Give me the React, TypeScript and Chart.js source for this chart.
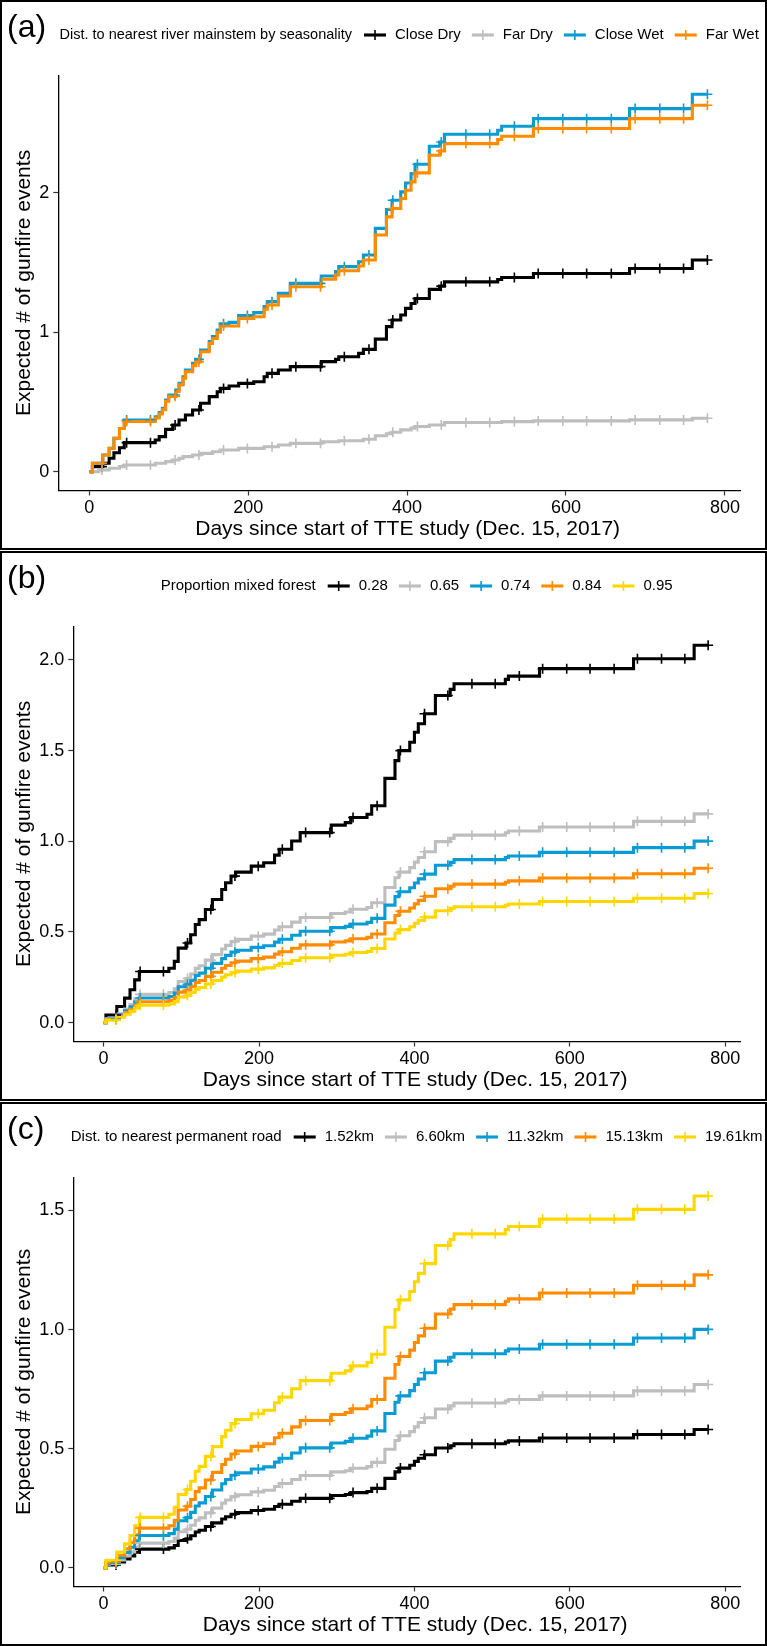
import React, { useEffect, useRef } from 'react';
import { Chart, registerables } from 'chart.js';

Chart.register(...registerables);

const FONT = '"Liberation Sans", Arial, Helvetica, sans-serif';

// ---------- shared ----------
const X_TICKS = [0, 200, 400, 600, 800];
const X_TITLE = 'Days since start of TTE study (Dec. 15, 2017)';
const Y_TITLE = 'Expected # of gunfire events';
const CENSOR_DAYS = [16, 47, 77, 108, 138, 169, 199, 230, 260, 291, 321, 352, 382, 413, 443, 474, 504, 535, 565, 596, 626, 657, 687, 718, 748, 778];
const COLORS = ['#000000', '#BEBEBE', '#0A9BD2', '#FF8C00', '#FFD700'];

// ---------- panel (a) ----------
const A_TAG = '(a)';
const A_LEGEND_TITLE = 'Dist. to nearest river mainstem by seasonality';
const A_LABELS = ['Close Dry', 'Far Dry', 'Close Wet', 'Far Wet'];
const A_Y_TICKS = [0, 1, 2];
const A_DAYS = [0, 4, 12, 17, 25, 31, 38, 44, 83, 88, 92, 96, 100, 105, 109, 113, 118, 121, 130, 134, 140, 151, 155, 161, 165, 176, 188, 207, 220, 224, 238, 253, 292, 310, 314, 339, 345, 360, 374, 381, 392, 398, 405, 410, 428, 441, 447, 514, 519, 559, 680, 759, 778];
const A_CLOSE_DRY = [0, 0.036, 0.036, 0.06, 0.096, 0.136, 0.172, 0.208, 0.227, 0.251, 0.251, 0.303, 0.303, 0.335, 0.335, 0.37, 0.37, 0.406, 0.442, 0.442, 0.49, 0.538, 0.538, 0.573, 0.597, 0.614, 0.633, 0.645, 0.681, 0.705, 0.729, 0.753, 0.789, 0.805, 0.824, 0.848, 0.877, 0.95, 1.04, 1.087, 1.123, 1.171, 1.206, 1.242, 1.307, 1.33, 1.361, 1.378, 1.392, 1.421, 1.457, 1.517, 1.517];
const A_FAR_DRY = [0, 0, 0.012, 0.012, 0.024, 0.024, 0.036, 0.048, 0.06, 0.06, 0.06, 0.072, 0.072, 0.084, 0.084, 0.095, 0.108, 0.108, 0.12, 0.12, 0.131, 0.131, 0.143, 0.143, 0.155, 0.155, 0.167, 0.167, 0.179, 0.179, 0.191, 0.203, 0.215, 0.215, 0.222, 0.222, 0.232, 0.258, 0.272, 0.283, 0.3, 0.3, 0.312, 0.324, 0.335, 0.335, 0.352, 0.352, 0.359, 0.364, 0.371, 0.383, 0.383];
const A_CLOSE_WET = [0, 0.06, 0.06, 0.12, 0.167, 0.239, 0.31, 0.37, 0.394, 0.423, 0.454, 0.514, 0.55, 0.55, 0.585, 0.633, 0.681, 0.729, 0.777, 0.805, 0.872, 0.932, 0.968, 1.016, 1.06, 1.07, 1.12, 1.14, 1.183, 1.219, 1.278, 1.35, 1.403, 1.434, 1.47, 1.505, 1.553, 1.744, 1.88, 1.946, 2.006, 2.07, 2.137, 2.204, 2.333, 2.364, 2.419, 2.448, 2.476, 2.531, 2.603, 2.706, 2.706];
const A_FAR_WET = [0, 0.06, 0.06, 0.12, 0.167, 0.239, 0.31, 0.36, 0.385, 0.414, 0.445, 0.505, 0.54, 0.54, 0.575, 0.622, 0.67, 0.717, 0.76, 0.787, 0.86, 0.92, 0.955, 1.0, 1.044, 1.044, 1.099, 1.111, 1.164, 1.195, 1.259, 1.326, 1.379, 1.41, 1.441, 1.474, 1.517, 1.697, 1.827, 1.887, 1.958, 2.018, 2.078, 2.142, 2.268, 2.3, 2.352, 2.381, 2.405, 2.46, 2.531, 2.627, 2.627];

// ---------- panels (b) and (c): shared event days ----------
const BC_DAYS = [0, 3, 17, 27, 34, 40, 46, 84, 91, 96, 106, 112, 118, 123, 131, 140, 152, 157, 164, 170, 190, 206, 220, 226, 242, 253, 293, 311, 318, 339, 345, 362, 375, 380, 394, 400, 405, 413, 427, 446, 451, 517, 521, 561, 682, 760, 778];

// ---------- panel (b) ----------
const B_TAG = '(b)';
const B_LEGEND_TITLE = 'Proportion mixed forest';
const B_LABELS = ['0.28', '0.65', '0.74', '0.84', '0.95'];
const B_Y_TICKS = [0, 0.5, 1, 1.5, 2];
const B_028 = [0, 0.042, 0.089, 0.135, 0.181, 0.236, 0.282, 0.3, 0.338, 0.411, 0.439, 0.485, 0.541, 0.568, 0.624, 0.679, 0.734, 0.771, 0.808, 0.83, 0.863, 0.882, 0.924, 0.956, 1.002, 1.048, 1.089, 1.103, 1.131, 1.149, 1.196, 1.347, 1.445, 1.5, 1.546, 1.601, 1.648, 1.703, 1.804, 1.838, 1.869, 1.893, 1.911, 1.952, 2.007, 2.081, 2.081];
const B_065 = [0, 0.023, 0.049, 0.075, 0.1, 0.131, 0.156, 0.166, 0.187, 0.227, 0.243, 0.268, 0.299, 0.314, 0.345, 0.375, 0.406, 0.426, 0.447, 0.459, 0.477, 0.488, 0.511, 0.529, 0.554, 0.58, 0.602, 0.61, 0.625, 0.635, 0.661, 0.745, 0.799, 0.83, 0.855, 0.885, 0.911, 0.942, 0.998, 1.016, 1.034, 1.047, 1.057, 1.079, 1.11, 1.151, 1.151];
const B_074 = [0, 0.02, 0.043, 0.065, 0.087, 0.114, 0.136, 0.144, 0.163, 0.198, 0.211, 0.233, 0.26, 0.273, 0.3, 0.327, 0.353, 0.371, 0.389, 0.399, 0.415, 0.424, 0.444, 0.46, 0.482, 0.504, 0.524, 0.531, 0.544, 0.553, 0.575, 0.648, 0.695, 0.722, 0.744, 0.77, 0.793, 0.819, 0.868, 0.884, 0.899, 0.911, 0.919, 0.939, 0.965, 1.001, 1.001];
const B_084 = [0, 0.017, 0.036, 0.055, 0.074, 0.097, 0.115, 0.123, 0.138, 0.168, 0.18, 0.198, 0.221, 0.232, 0.255, 0.278, 0.3, 0.315, 0.33, 0.339, 0.353, 0.361, 0.378, 0.391, 0.41, 0.429, 0.445, 0.451, 0.463, 0.47, 0.489, 0.551, 0.591, 0.614, 0.632, 0.655, 0.674, 0.697, 0.738, 0.752, 0.764, 0.774, 0.782, 0.798, 0.821, 0.851, 0.851];
const B_095 = [0, 0.014, 0.03, 0.046, 0.062, 0.081, 0.096, 0.103, 0.116, 0.141, 0.15, 0.166, 0.185, 0.194, 0.213, 0.232, 0.251, 0.264, 0.276, 0.284, 0.295, 0.302, 0.316, 0.327, 0.343, 0.358, 0.372, 0.377, 0.387, 0.393, 0.409, 0.461, 0.494, 0.513, 0.529, 0.548, 0.564, 0.582, 0.617, 0.629, 0.639, 0.647, 0.654, 0.668, 0.686, 0.712, 0.712];

// ---------- panel (c) ----------
const C_TAG = '(c)';
const C_LEGEND_TITLE = 'Dist. to nearest permanent road';
const C_LABELS = ['1.52km', '6.60km', '11.32km', '15.13km', '19.61km'];
const C_Y_TICKS = [0, 0.5, 1, 1.5];
const C_152 = [0, 0.012, 0.025, 0.038, 0.05, 0.066, 0.079, 0.084, 0.094, 0.115, 0.122, 0.135, 0.151, 0.158, 0.174, 0.189, 0.205, 0.215, 0.225, 0.232, 0.241, 0.246, 0.258, 0.267, 0.28, 0.292, 0.304, 0.308, 0.316, 0.321, 0.334, 0.376, 0.403, 0.419, 0.431, 0.447, 0.46, 0.475, 0.503, 0.513, 0.521, 0.528, 0.533, 0.545, 0.56, 0.581, 0.581];
const C_660 = [0, 0.016, 0.033, 0.05, 0.067, 0.087, 0.104, 0.111, 0.125, 0.152, 0.162, 0.179, 0.2, 0.21, 0.231, 0.251, 0.272, 0.285, 0.299, 0.307, 0.319, 0.326, 0.342, 0.354, 0.371, 0.388, 0.403, 0.408, 0.418, 0.425, 0.443, 0.498, 0.535, 0.555, 0.572, 0.592, 0.61, 0.63, 0.667, 0.68, 0.692, 0.7, 0.707, 0.722, 0.743, 0.77, 0.77];
const C_1132 = [0, 0.02, 0.043, 0.065, 0.087, 0.114, 0.136, 0.144, 0.163, 0.198, 0.211, 0.233, 0.26, 0.273, 0.3, 0.327, 0.353, 0.371, 0.389, 0.399, 0.415, 0.424, 0.444, 0.46, 0.482, 0.504, 0.524, 0.531, 0.544, 0.553, 0.575, 0.648, 0.695, 0.722, 0.744, 0.77, 0.793, 0.819, 0.868, 0.884, 0.899, 0.911, 0.919, 0.939, 0.965, 1.001, 1.001];
const C_1513 = [0, 0.025, 0.053, 0.08, 0.107, 0.139, 0.167, 0.177, 0.2, 0.243, 0.259, 0.287, 0.32, 0.336, 0.369, 0.401, 0.434, 0.456, 0.478, 0.491, 0.51, 0.521, 0.546, 0.565, 0.592, 0.619, 0.644, 0.652, 0.668, 0.679, 0.707, 0.796, 0.854, 0.887, 0.914, 0.946, 0.974, 1.006, 1.066, 1.086, 1.105, 1.119, 1.129, 1.154, 1.186, 1.23, 1.23];
const C_1961 = [0, 0.032, 0.067, 0.101, 0.136, 0.177, 0.212, 0.225, 0.254, 0.308, 0.329, 0.364, 0.406, 0.426, 0.468, 0.509, 0.551, 0.578, 0.606, 0.623, 0.647, 0.662, 0.693, 0.717, 0.752, 0.786, 0.817, 0.827, 0.848, 0.862, 0.897, 1.01, 1.084, 1.125, 1.16, 1.201, 1.236, 1.277, 1.353, 1.379, 1.402, 1.42, 1.433, 1.464, 1.505, 1.561, 1.561];

// ---------- helpers ----------
type Spec = {
  tag: string;
  legendTitle: string;
  titleSize: number;
  labels: string[];
  days: number[];
  series: number[][];
  yTicks: number[];
  yFmt: (v: number) => string;
  yMin: number;
  yMax: number;
  top: number;
  height: number;
  plotLeft: number;
};

function stepAt(days: number[], vals: number[], d: number): number {
  let v = vals[0];
  for (let i = 0; i < days.length; i++) {
    if (days[i] <= d) v = vals[i];
  }
  return v;
}

const PLOT_TOP = 75.4;
const PLOT_RIGHT_PAD = 27;
const X_AXIS_H = 59.5;
const LINE_W = 3.1;

const ggDecor = {
  id: 'ggDecor',
  afterDraw(chart: any, _args: any, opts: any) {
    const { ctx, chartArea } = chart;
    ctx.save();
    ctx.textBaseline = 'middle';
    ctx.textAlign = 'left';
    ctx.fillStyle = '#000';
    // panel tag
    ctx.font = `32px ${FONT}`;
    ctx.fillText(opts.tag, 7, 28);

    // x-axis title (ggplot centres it slightly right of the panel centre)
    ctx.font = `21px ${FONT}`;
    ctx.textAlign = 'center';
    ctx.fillText(opts.xTitle, (chartArea.left + chartArea.right) / 2 + 8.5, chart.height - 20.5);
    ctx.textAlign = 'left';

    // legend
    const labels: string[] = opts.labels;
    ctx.font = `${opts.titleSize}px ${FONT}`;
    const titleW = ctx.measureText(opts.title).width;
    ctx.font = `15px ${FONT}`;
    const labelW = labels.map((l) => ctx.measureText(l).width);
    const KEY = 22, G1 = 12, G2 = 9, G3 = 11;
    const n = labels.length;
    const total = titleW + G1 + labelW.reduce((a, b) => a + b, 0) + n * (KEY + G2) + (n - 1) * G3;
    let x = (chartArea.left + chartArea.right) / 2 + 10 - total / 2;
    const y = 35;
    ctx.font = `${opts.titleSize}px ${FONT}`;
    ctx.fillText(opts.title, x, y);
    ctx.font = `15px ${FONT}`;
    x += titleW + G1;
    labels.forEach((l, i) => {
      ctx.strokeStyle = COLORS[i];
      ctx.lineWidth = LINE_W;
      ctx.beginPath();
      ctx.moveTo(x, y);
      ctx.lineTo(x + KEY, y);
      ctx.stroke();
      ctx.lineWidth = 1.6;
      ctx.beginPath();
      ctx.moveTo(x + KEY / 2, y - 5);
      ctx.lineTo(x + KEY / 2, y + 5);
      ctx.stroke();
      x += KEY + G2;
      ctx.fillStyle = '#000';
      ctx.fillText(l, x, y);
      x += labelW[i] + G3;
    });
    ctx.restore();
  },
};

function makeConfig(s: Spec): any {
  const datasets: any[] = [];
  s.series.forEach((vals, i) => {
    datasets.push({
      label: s.labels[i],
      data: s.days.map((d, k) => ({ x: d, y: vals[k] })),
      borderColor: COLORS[i],
      backgroundColor: COLORS[i],
      borderWidth: LINE_W,
      borderJoinStyle: 'miter',
      borderCapStyle: 'butt',
      stepped: 'before',
      pointRadius: 0,
      fill: false,
      order: 40 - i,
    });
  });
  s.series.forEach((vals, i) => {
    datasets.push({
      label: s.labels[i] + ' (censored)',
      data: CENSOR_DAYS.map((d) => ({ x: d, y: stepAt(s.days, vals, d) })),
      showLine: false,
      pointStyle: 'cross',
      pointRadius: 5,
      pointBorderWidth: 1.6,
      pointBorderColor: COLORS[i],
      borderColor: COLORS[i],
      backgroundColor: COLORS[i],
      order: 20 - i,
    });
  });
  return {
    type: 'line',
    data: { datasets },
    plugins: [ggDecor],
    options: {
      animation: false,
      responsive: false,
      devicePixelRatio: 1,
      events: [],
      layout: { padding: { top: PLOT_TOP, right: PLOT_RIGHT_PAD, left: 0, bottom: 0 } },
      plugins: {
        legend: { display: false },
        tooltip: { enabled: false },
        ggDecor: { tag: s.tag, title: s.legendTitle, titleSize: s.titleSize, labels: s.labels, xTitle: X_TITLE },
      },
      scales: {
        x: {
          type: 'linear',
          min: -39,
          max: 819,
          afterBuildTicks: (sc: any) => {
            sc.ticks = X_TICKS.map((v) => ({ value: v }));
          },
          afterFit: (sc: any) => {
            sc.height = X_AXIS_H;
          },
          grid: { display: true, drawOnChartArea: false, drawTicks: true, tickLength: 5, tickColor: '#333', tickWidth: 1.2 },
          border: { display: true, color: '#000', width: 1.3 },
          ticks: {
            autoSkip: false,
            maxRotation: 0,
            padding: 2,
            color: '#000',
            font: { family: FONT, size: 18 },
            callback: (v: any) => String(v),
          },
          title: { display: false, text: X_TITLE },
        },
        y: {
          type: 'linear',
          min: s.yMin,
          max: s.yMax,
          afterBuildTicks: (sc: any) => {
            sc.ticks = s.yTicks.map((v) => ({ value: v }));
          },
          afterFit: (sc: any) => {
            sc.width = s.plotLeft;
          },
          grid: { display: true, drawOnChartArea: false, drawTicks: true, tickLength: 5, tickColor: '#333', tickWidth: 1.2 },
          border: { display: true, color: '#000', width: 1.3 },
          ticks: {
            autoSkip: false,
            padding: 4,
            color: '#000',
            font: { family: FONT, size: 18 },
            callback: (v: any) => s.yFmt(Number(v)),
          },
          title: {
            display: true,
            text: Y_TITLE,
            color: '#000',
            font: { family: FONT, size: 21 },
            padding: { top: 12, bottom: 0 },
          },
        },
      },
    },
  };
}

const SPECS: Spec[] = [
  {
    tag: A_TAG,
    legendTitle: A_LEGEND_TITLE,
    titleSize: 14.5,
    labels: A_LABELS,
    days: A_DAYS,
    series: [A_CLOSE_DRY, A_FAR_DRY, A_CLOSE_WET, A_FAR_WET],
    yTicks: A_Y_TICKS,
    yFmt: (v) => String(v),
    yMin: -0.135,
    yMax: 2.841,
    top: 0,
    height: 550,
    plotLeft: 58.3,
  },
  {
    tag: B_TAG,
    legendTitle: B_LEGEND_TITLE,
    titleSize: 15,
    labels: B_LABELS,
    days: BC_DAYS,
    series: [B_028, B_065, B_074, B_084, B_095],
    yTicks: B_Y_TICKS,
    yFmt: (v) => v.toFixed(1),
    yMin: -0.104,
    yMax: 2.185,
    top: 551,
    height: 550,
    plotLeft: 73.3,
  },
  {
    tag: C_TAG,
    legendTitle: C_LEGEND_TITLE,
    titleSize: 15,
    labels: C_LABELS,
    days: BC_DAYS,
    series: [C_152, C_660, C_1132, C_1513, C_1961],
    yTicks: C_Y_TICKS,
    yFmt: (v) => v.toFixed(1),
    yMin: -0.078,
    yMax: 1.639,
    top: 1102,
    height: 544,
    plotLeft: 73.3,
  },
];

function Panel({ spec }: { spec: Spec }) {
  const ref = useRef<HTMLCanvasElement | null>(null);
  useEffect(() => {
    if (!ref.current) return;
    const chart = new Chart(ref.current, makeConfig(spec));
    return () => chart.destroy();
  }, [spec]);
  return (
    <>
      <canvas
        ref={ref}
        width={767}
        height={spec.height}
        style={{ position: 'absolute', left: 0, top: spec.top, width: 767, height: spec.height }}
      />
      <div
        style={{
          position: 'absolute',
          left: 0,
          top: spec.top,
          width: 767,
          height: spec.height,
          border: '2px solid #000',
          boxSizing: 'border-box',
          pointerEvents: 'none',
        }}
      />
    </>
  );
}

export default function App() {
  return (
    <div style={{ position: 'absolute', left: 0, top: 0, width: 767, height: 1646, background: '#fff', overflow: 'hidden' }}>
      {SPECS.map((s) => (
        <Panel key={s.tag} spec={s} />
      ))}
    </div>
  );
}
